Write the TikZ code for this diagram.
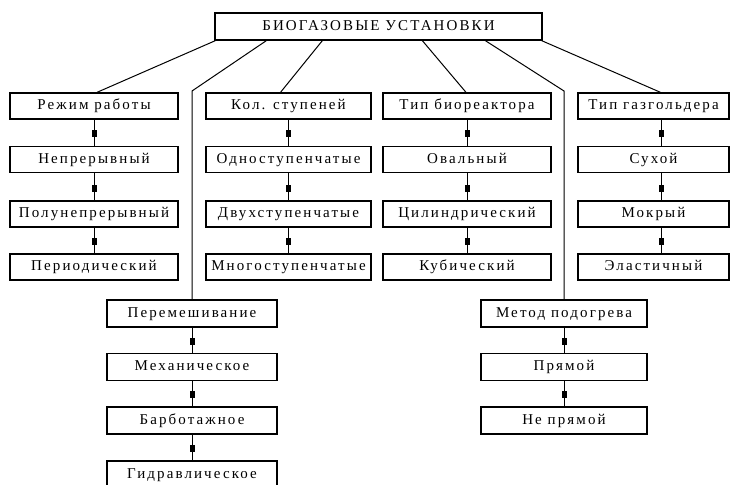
\documentclass[tikz,border=0pt]{standalone}
\usepackage{fontspec}
\setmainfont[LetterSpace=14]{Liberation Serif}
\usetikzlibrary{arrows.meta,decorations.markings}
\begin{document}
\begin{tikzpicture}[x=1pt,y=-1pt,
  box/.style={draw, line width=1.3pt, minimum height=26pt, inner sep=0pt,
    text height=10pt, text depth=2.5pt,
    font=\fontsize{15}{15}\selectfont},
  colA/.style={box, minimum width=168pt},
  colB/.style={box, minimum width=165pt},
  colC/.style={box, minimum width=168pt},
  colD/.style={box, minimum width=151pt},
  colE/.style={box, minimum width=170pt, minimum height=27pt},
  colF/.style={box, minimum width=166pt, minimum height=27pt},
  link/.style={line width=1pt},
  chainlink/.style={line width=1pt, postaction={decorate},
    decoration={markings, mark=at position 0.68 with {\arrow{Square[length=7pt,width=5pt]}}}}]
\useasboundingbox (0,0) rectangle (738,484);
\node[box, minimum width=327pt, minimum height=27pt] (root) at (378.5,26.5) {БИОГАЗОВЫЕ УСТАНОВКИ};
% column 1
\node[colA] (mode) at (94,106) {Режим работы};
\node[colA] (cont) at (94,159.5) {Непрерывный};
\node[colA] (semi) at (94,214) {Полунепрерывный};
\node[colA] (peri) at (94,267) {Периодический};
% column 2
\node[colB] (stages) at (288.5,106) {Кол. ступеней};
\node[colB] (one) at (288.5,159.5) {Одноступенчатые};
\node[colB] (two) at (288.5,214) {Двухступенчатые};
\node[colB] (many) at (288.5,267) {Многоступенчатые};
% column 3
\node[colC] (reactor) at (467,106) {Тип биореактора};
\node[colC] (oval) at (467,159.5) {Овальный};
\node[colC] (cyl) at (467,214) {Цилиндрический};
\node[colC] (cub) at (467,267) {Кубический};
% column 4
\node[colD] (gas) at (653.5,106) {Тип газгольдера};
\node[colD] (dry) at (653.5,159.5) {Сухой};
\node[colD] (wet) at (653.5,214) {Мокрый};
\node[colD] (elas) at (653.5,267) {Эластичный};
% mixing
\node[colE] (perem) at (192,313.5) {Перемешивание};
\node[colE] (mech) at (192,367) {Механическое};
\node[colE] (barb) at (192,420.5) {Барботажное};
\node[colE] (hydr) at (192,474.5) {Гидравлическое};
% heating
\node[colF] (heat) at (564,313.5) {Метод подогрева};
\node[colF] (direct) at (564,367) {Прямой};
\node[colF] (indirect) at (564,420.5) {Не прямой};
% bends
\coordinate (bendL) at (192,91);
\coordinate (bendR) at (564,91);
% top connectors
\draw[link] ([xshift=1pt]root.south west) -- ([xshift=3pt]mode.north);
\draw[link] ([xshift=108pt]root.south west) -- ([xshift=-8pt]stages.north);
\draw[link] ([xshift=208pt]root.south west) -- ([xshift=-1pt]reactor.north);
\draw[link] ([xshift=-1pt]root.south east) -- ([xshift=7pt]gas.north);
\draw[link] ([xshift=52pt]root.south west) -- (bendL) -- (perem.north);
\draw[link] ([xshift=271pt]root.south west) -- (bendR) -- (heat.north);
% chains
\draw[chainlink] (mode.south) -- (cont.north);
\draw[chainlink] (cont.south) -- (semi.north);
\draw[chainlink] (semi.south) -- (peri.north);
\draw[chainlink] (stages.south) -- (one.north);
\draw[chainlink] (one.south) -- (two.north);
\draw[chainlink] (two.south) -- (many.north);
\draw[chainlink] (reactor.south) -- (oval.north);
\draw[chainlink] (oval.south) -- (cyl.north);
\draw[chainlink] (cyl.south) -- (cub.north);
\draw[chainlink] ([xshift=8pt]gas.south) -- ([xshift=8pt]dry.north);
\draw[chainlink] ([xshift=8pt]dry.south) -- ([xshift=8pt]wet.north);
\draw[chainlink] ([xshift=8pt]wet.south) -- ([xshift=8pt]elas.north);
\draw[chainlink] (perem.south) -- (mech.north);
\draw[chainlink] (mech.south) -- (barb.north);
\draw[chainlink] (barb.south) -- (hydr.north);
\draw[chainlink] (heat.south) -- (direct.north);
\draw[chainlink] (direct.south) -- (indirect.north);
\end{tikzpicture}
\end{document}
